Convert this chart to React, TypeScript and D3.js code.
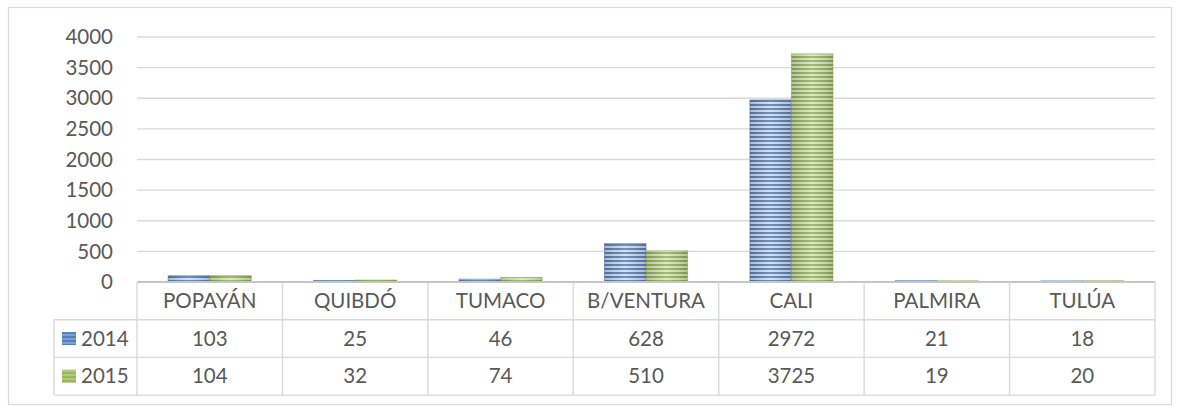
import React from 'react';
import * as d3 from 'd3';

const categories = ['POPAYÁN', 'QUIBDÓ', 'TUMACO', 'B/VENTURA', 'CALI', 'PALMIRA', 'TULÚA'];
const seriesNames = ['2014', '2015'];
const values2014 = [103, 25, 46, 628, 2972, 21, 18];
const values2015 = [104, 32, 74, 510, 3725, 19, 20];
const yTicks = [0, 500, 1000, 1500, 2000, 2500, 3000, 3500, 4000];

const W = 1185;
const H = 406;
const plot = { left: 137, right: 1155, top: 37, bottom: 282 };
const rowH = 37.7;
const legendLeft = 54;

const seriesStyle = [
  { id: 'blue', dark: '#5a82bb', light: '#cfdcef', stroke: '#3f669d', key: '#4f7fbe' },
  { id: 'green', dark: '#93b35a', light: '#d9e7bf', stroke: '#7f9e49', key: '#9bbb59' },
];

const FONT = 'Lato, "Liberation Sans", sans-serif';
const TEXT = '#595959';
const GRID = '#d9d9d9';

const App = () => {
  const allSeries = [values2014, values2015];

  const x = d3.scaleBand<string>().domain(categories).range([plot.left, plot.right]);
  const inner = d3.scaleBand<string>()
    .domain(seriesNames)
    .range([0, x.bandwidth()])
    .paddingOuter(0.75)
    .paddingInner(0);
  const y = d3.scaleLinear().domain([0, 4000]).range([plot.bottom, plot.top]);

  const rowTops = [plot.bottom, plot.bottom + rowH, plot.bottom + 2 * rowH, plot.bottom + 3 * rowH];

  return (
    <svg width={W} height={H} style={{ position: 'absolute', left: 0, top: 0, display: 'block' }}>
      <defs>
        {seriesStyle.map(s => (
          <pattern key={s.id} id={`stripe-${s.id}`} width={4} height={4} patternUnits="userSpaceOnUse">
            <rect width={4} height={4} fill={s.light} />
            <rect width={4} height={2} fill={s.dark} />
          </pattern>
        ))}
        <linearGradient id="shade" x1="0" x2="1" y1="0" y2="0">
          <stop offset="0" stopColor="#000" stopOpacity={0.16} />
          <stop offset="0.5" stopColor="#fff" stopOpacity={0.12} />
          <stop offset="1" stopColor="#000" stopOpacity={0.16} />
        </linearGradient>
      </defs>

      <rect x={0} y={0} width={W} height={H} fill="#fff" />
      <rect x={8.5} y={7.5} width={1163} height={397} fill="none" stroke={GRID} strokeWidth={1.2} />

      {/* gridlines */}
      {yTicks.filter(t => t > 0).map(t => (
        <line key={t} x1={plot.left} x2={plot.right} y1={y(t)} y2={y(t)} stroke={GRID} strokeWidth={1.3} />
      ))}

      {/* y labels */}
      {yTicks.map(t => (
        <text key={t} x={113} y={y(t)} dy="0.35em" textAnchor="end" fontFamily={FONT} fontSize={20.5} fill={TEXT}>
          {t}
        </text>
      ))}

      {/* bars */}
      {allSeries.map((vals, si) => (
        <g key={si}>
          {vals.map((v, i) => {
            const bx = (x(categories[i]) as number) + (inner(seriesNames[si]) as number);
            const bw = inner.bandwidth();
            const by = y(v);
            const bh = plot.bottom - by;
            return (
              <g key={i}>
                <rect x={bx} y={by} width={bw} height={bh} fill={`url(#stripe-${seriesStyle[si].id})`} />
                <rect x={bx} y={by} width={bw} height={bh} fill="url(#shade)" stroke={seriesStyle[si].stroke} strokeOpacity={0.5} strokeWidth={1} />
              </g>
            );
          })}
        </g>
      ))}

      {/* data table */}
      <g fill="none" stroke={GRID} strokeWidth={1.4}>
        <line x1={plot.left} x2={plot.right} y1={rowTops[0]} y2={rowTops[0]} stroke="#c6c6c6" strokeWidth={1.8} />
        <line x1={legendLeft} x2={plot.right} y1={rowTops[1]} y2={rowTops[1]} />
        <line x1={legendLeft} x2={plot.right} y1={rowTops[2]} y2={rowTops[2]} />
        <line x1={legendLeft} x2={plot.right} y1={rowTops[3]} y2={rowTops[3]} />
        <line x1={legendLeft} x2={legendLeft} y1={rowTops[1]} y2={rowTops[3]} />
        {categories.map(c => (
          <line key={c} x1={x(c)} x2={x(c)} y1={rowTops[0]} y2={rowTops[3]} />
        ))}
        <line x1={plot.right} x2={plot.right} y1={rowTops[0]} y2={rowTops[3]} />
      </g>

      {categories.map(c => (
        <text key={c} x={(x(c) as number) + x.bandwidth() / 2} y={rowTops[0] + rowH / 2} dy="0.35em"
          textAnchor="middle" fontFamily={FONT} fontSize={20.5} fill={TEXT}>
          {c}
        </text>
      ))}

      {allSeries.map((vals, si) => (
        <g key={si}>
          <rect x={62} y={rowTops[si + 1] + rowH / 2 - 6.5} width={14} height={13} fill={seriesStyle[si].key} />
          <rect x={62} y={rowTops[si + 1] + rowH / 2 - 6.5} width={14} height={13} fill={`url(#stripe-${seriesStyle[si].id})`} opacity={0.35} />
          <text x={81} y={rowTops[si + 1] + rowH / 2} dy="0.35em" fontFamily={FONT} fontSize={20.5} fill={TEXT}>
            {seriesNames[si]}
          </text>
          {vals.map((v, i) => (
            <text key={i} x={(x(categories[i]) as number) + x.bandwidth() / 2} y={rowTops[si + 1] + rowH / 2} dy="0.35em"
              textAnchor="middle" fontFamily={FONT} fontSize={20.5} fill={TEXT}>
              {v}
            </text>
          ))}
        </g>
      ))}
    </svg>
  );
};

export default App;
